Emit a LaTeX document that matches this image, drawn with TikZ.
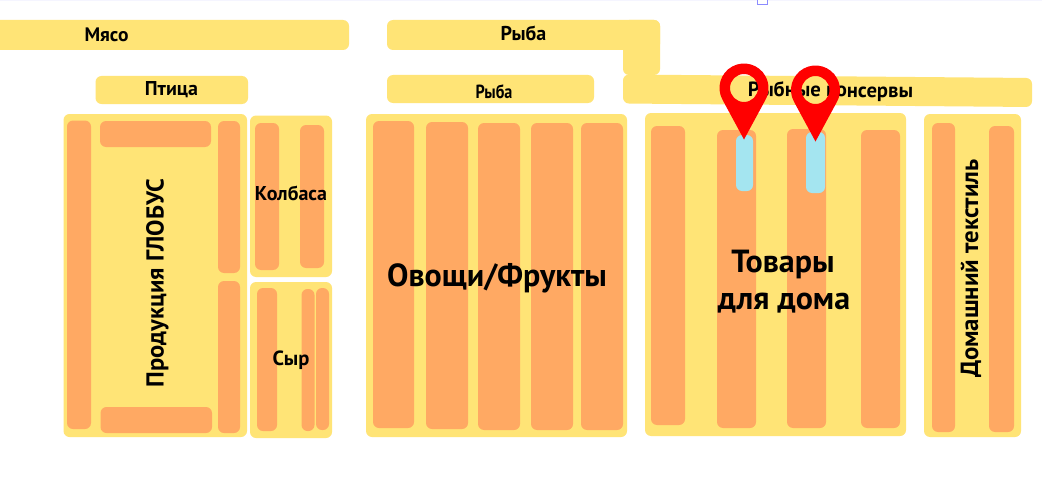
\documentclass[tikz,border=0pt]{standalone}
\usepackage{fontspec}
\setmainfont{PT Sans}
\definecolor{shelfY}{HTML}{FFE476}
\definecolor{shelfO}{HTML}{FFA963}
\definecolor{shelfB}{HTML}{A4E5F0}
\definecolor{pinR}{HTML}{FF0000}
\newcommand{\blk}[5]{\fill[#1] (#2,#3) rectangle (#4,#5);}
\newcommand{\fs}[1]{\fontsize{#1}{#1}\selectfont\bfseries}
\newcommand{\pinmark}[2]{\begin{scope}[shift={(#1,#2)}]
\fill[pinR,even odd rule] (-21.5,11.76) arc[start angle=151.3,end angle=388.7,radius=24.5] -- (0,51.5) -- cycle (14,0) arc[start angle=0,end angle=360,radius=14];
\end{scope}}
\tikzset{
 yel/.style={fill=shelfY,rounded corners=6pt},
 ora/.style={fill=shelfO,rounded corners=6pt},
 blu/.style={fill=shelfB,rounded corners=6pt},
 lab/.style={inner sep=0pt,text=black,align=center}
}
\begin{document}
\begin{tikzpicture}[x=1pt,y=-1pt]
\useasboundingbox (0,0) rectangle (1042,495);
\clip (0,0) rectangle (1042,495);
\fill[white] (0,0) rectangle (1042,495);
\fill[blue!4] (0,0) rectangle (1042,1);
\draw[blue!45!white,line width=.8pt,fill=white] (757.5,-2) rectangle (767,4.5);
% header bars
\blk{yel}{-10}{20}{349}{50}
\blk{yel}{95.5}{76}{248}{104}
\blk{yel}{387}{20}{660}{50}
\blk{yel}{623}{20}{660}{75}
\blk{yel}{387}{75}{594}{103}
\fill[yel] (623,74.5) -- (1032,78) -- (1032,107) -- (623,103.5) -- cycle;
% left block
\blk{yel}{63.5}{114}{247}{437}
\blk{ora}{67}{120.5}{91}{429}
\blk{ora}{100}{121}{211}{147}
\blk{ora}{218}{121}{240}{273}
\blk{ora}{218}{281}{240}{433}
\blk{ora}{100.5}{407}{212}{433}
% sausage block
\blk{yel}{250}{115.5}{332}{277}
\blk{ora}{255}{123}{279}{270}
\blk{ora}{300}{125}{324}{268}
% cheese block
\blk{yel}{250}{282}{332}{438}
\blk{ora}{257}{288}{277}{431}
\blk{ora}{301.5}{289}{314.5}{431}
\blk{ora}{316}{288}{329}{430}
% vegetables block
\blk{yel}{366}{114}{627}{437}
\blk{ora}{373}{121}{414}{428}
\blk{ora}{426}{122}{468}{429}
\blk{ora}{478}{123}{520}{430}
\blk{ora}{531}{123}{573}{430}
\blk{ora}{581}{123}{623}{430}
% household block
\blk{yel}{645}{113}{906}{436}
\blk{ora}{651}{126}{685}{425}
\blk{ora}{717}{130}{756}{428}
\blk{ora}{787}{129}{826}{428}
\blk{ora}{861}{130}{900}{428}
\blk{blu}{736}{135}{753}{191}
\blk{blu}{806}{132}{825}{193}
% textile block
\blk{yel}{924}{114}{1021}{437}
\blk{ora}{932}{123}{955}{432}
\blk{ora}{989}{126}{1014}{432}
% labels
\node[lab] (myaso) at (106.5,34.5) {\fs{19.5}Мясо};
\node[lab] (ptitsa) at (171.5,89.5) {\fs{20}Птица};
\node[lab] (ryba1) at (523.5,33.5) {\fs{20}Рыба};
\node[lab,xscale=.85] (ryba2) at (494,91.5) {\fs{19}Рыба};
\node[lab,rotate=-.5] (konserv) at (830.5,91.5) {\fs{20.6}Рыбные консервы};
\node[lab,rotate=90] (globus) at (157.5,283) {\fs{24.5}Продукция ГЛОБУС};
\node[lab] (kolb) at (291,193.5) {\fs{20}Колбаса};
\node[lab] (syr) at (291,360.5) {\fs{20.5}Сыр};
\node[lab] (veg) at (497,278) {\fs{32}Овощи/Фрукты};
\node[lab] (tov1) at (783,264) {\fs{32}Товары};
\node[lab] (tov2) at (784,303) {\fs{32}для дома};
\node[lab,rotate=90] (dom) at (971,268.5) {\fs{24.8}Домашний текстиль};
% pins
\pinmark{744}{88}
\pinmark{815.5}{90}
\end{tikzpicture}
\end{document}
